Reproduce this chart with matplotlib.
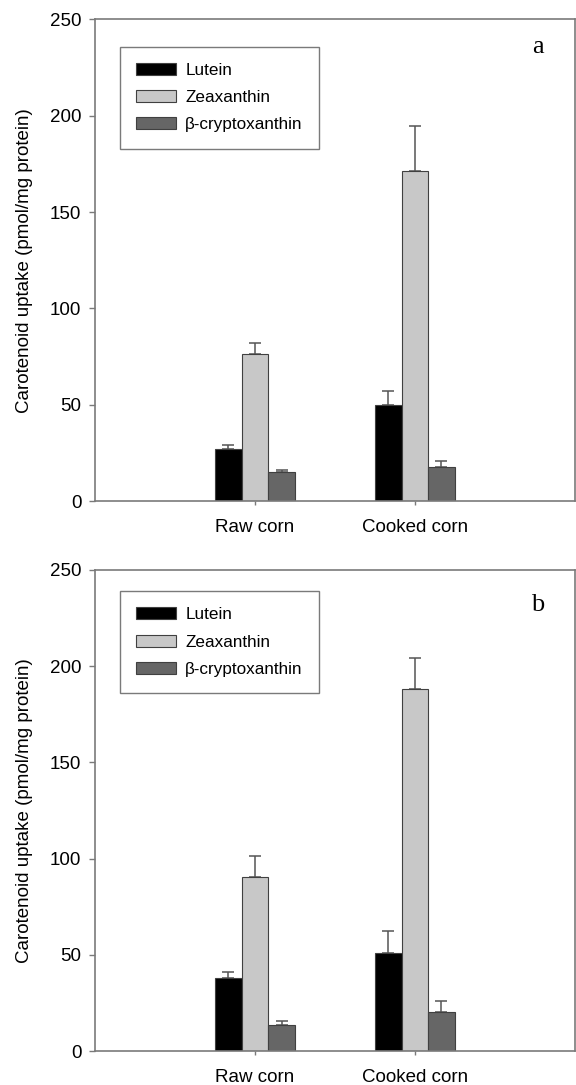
import numpy as np
import matplotlib.pyplot as plt

# donnees (pmol/mg protein)
categories = ["Raw corn", "Cooked corn"]
series = ["Lutein", "Zeaxanthin", "\u03b2-cryptoxanthin"]

# panneau a
lutein_a = [26.8, 50.1]
zeaxanthin_a = [76.5, 171.5]
crypto_a = [15.2, 17.5]
lutein_a_err = [2.3, 7.1]
zeaxanthin_a_err = [5.4, 22.9]
crypto_a_err = [0.7, 3.4]

# panneau b
lutein_b = [37.9, 50.9]
zeaxanthin_b = [90.4, 188.1]
crypto_b = [13.4, 20.2]
lutein_b_err = [3.4, 11.4]
zeaxanthin_b_err = [11.0, 16.4]
crypto_b_err = [2.2, 5.8]

yticks = [0, 50, 100, 150, 200, 250]

COLORS = ["#000000", "#c8c8c8", "#666666"]
SPINE = "#7a7a7a"

plt.rcParams["font.family"] = ["Liberation Sans", "DejaVu Sans"]


def draw_panel(ax, values, errors, letter, legend_top, letter_y):
    """Draws one grouped bar panel"""
    x = np.arange(len(categories))
    width = 1 / 6
    for i, (vals, errs) in enumerate(zip(values, errors)):
        offset = (i - 1) * width
        ax.bar(x + offset, vals, width, color=COLORS[i], edgecolor="#404040",
               linewidth=0.8, label=series[i], zorder=2)
        ax.errorbar(x + offset, vals, yerr=[np.zeros(len(errs)), errs],
                    fmt="none", ecolor="#555555", elinewidth=1.1,
                    capsize=4.5, capthick=1.1, zorder=1)

    ax.set_xlim(-1, 2)
    ax.set_ylim(0, 250)
    ax.set_yticks(yticks)
    ax.set_xticks(x)
    ax.set_xticklabels(categories)
    ax.tick_params(axis="y", direction="out", length=4, width=1,
                   color=SPINE, labelsize=13.5, pad=6)
    ax.tick_params(axis="x", direction="out", length=3, width=1,
                   color=SPINE, labelsize=13.5, pad=10)
    for spine in ax.spines.values():
        spine.set_color(SPINE)
        spine.set_linewidth(1.2)

    ax.set_ylabel("Carotenoid uptake (pmol/mg protein)", fontsize=13.5)
    ax.yaxis.set_label_coords(-0.13, 0.5)

    leg = ax.legend(loc="upper left", bbox_to_anchor=(0.052, legend_top),
                    borderaxespad=0, fontsize=12.3, handlelength=2.3,
                    handleheight=0.7, handletextpad=0.55, labelspacing=0.72,
                    borderpad=0.95, fancybox=False, framealpha=1)
    leg.get_frame().set_edgecolor(SPINE)
    leg.get_frame().set_linewidth(1.0)

    ax.text(0.924, letter_y, letter, transform=ax.transAxes, ha="center",
            va="center", fontsize=19, family=["Liberation Serif", "DejaVu Serif"])


def main():
    fig = plt.figure(figsize=(5.76, 10.85), dpi=100)
    ax_a = fig.add_axes([0.1655, 0.5382, 0.832, 0.444])
    ax_b = fig.add_axes([0.1655, 0.0313, 0.832, 0.4434])

    draw_panel(ax_a, [lutein_a, zeaxanthin_a, crypto_a],
               [lutein_a_err, zeaxanthin_a_err, crypto_a_err], "a", 0.9435, 0.9415)
    draw_panel(ax_b, [lutein_b, zeaxanthin_b, crypto_b],
               [lutein_b_err, zeaxanthin_b_err, crypto_b_err], "b", 0.956, 0.9266)

    fig.savefig("out.png", dpi=100)


if __name__ == "__main__":
    main()
